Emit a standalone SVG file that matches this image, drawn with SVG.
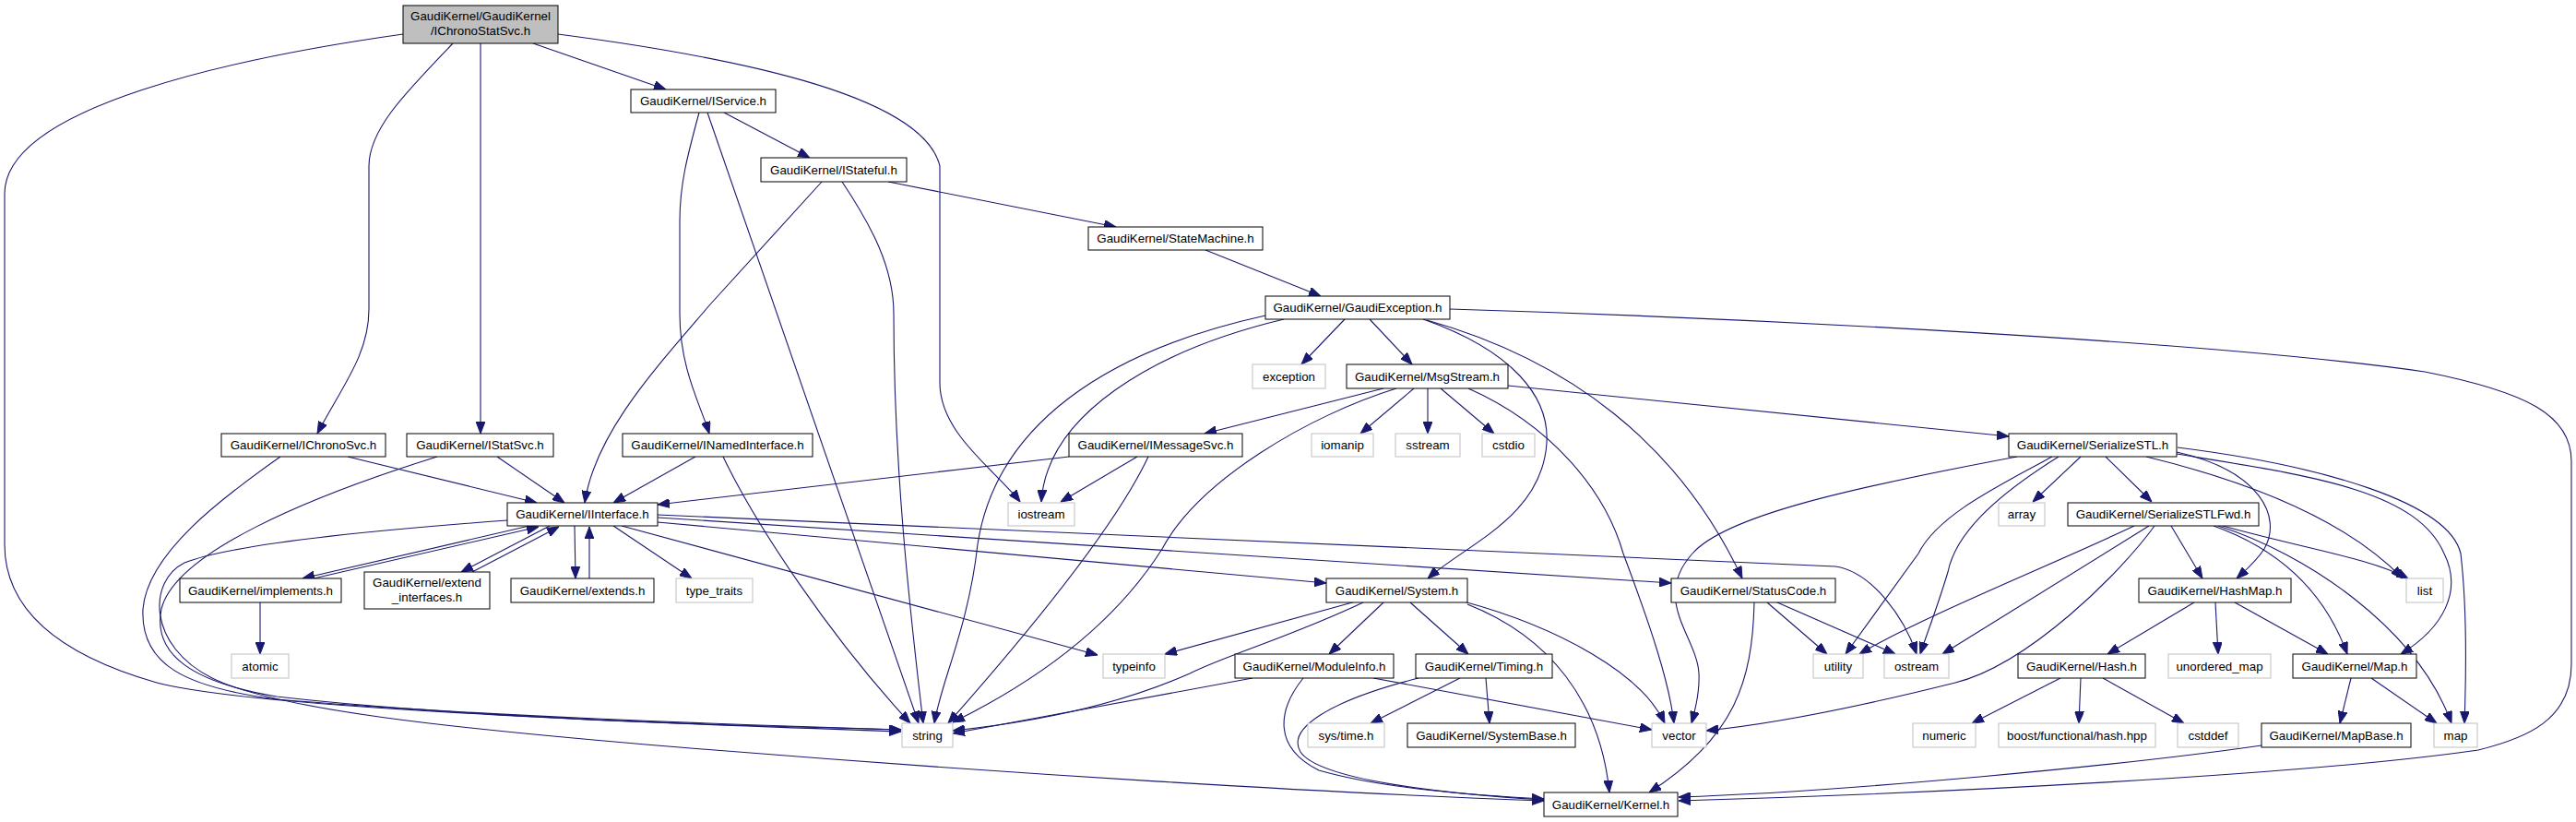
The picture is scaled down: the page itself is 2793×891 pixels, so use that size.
<svg xmlns="http://www.w3.org/2000/svg" width="2793" height="891" viewBox="0 0 2793 891">
<style>
.n{fill:#fff;stroke:#000;stroke-width:1}
.g{fill:#fff;stroke:#bfbfbf;stroke-width:1}
.r{fill:#bfbfbf;stroke:#000;stroke-width:1}
text{font-family:"Liberation Sans",Arial,Helvetica,sans-serif;font-size:13.33px;text-anchor:middle;fill:#000}
.e path{fill:none;stroke:#191970;stroke-width:1.1;marker-end:url(#a)}
</style>
<defs>
<marker id="a" markerUnits="userSpaceOnUse" markerWidth="13" markerHeight="10" refX="13" refY="5" orient="auto"><path d="M0,0 L13,5 L0,10 z" fill="#191970" stroke="#191970" stroke-width="1"/></marker>
</defs>
<rect width="2793" height="891" fill="#fff"/>
<g id="edges" class="e">
<path d="M437,37 C260,62 5,115 5,210 L5,590 C5,680 100,720 170,740 C280,770 800,787 977,793"/>
<path d="M491,47 C440,100 400,140 400,180 L400,335 C400,385 370,420 344,470"/>
<path d="M521,47 L521,470"/>
<path d="M578,47 L722,97"/>
<path d="M605,37 C780,60 1000,100 1019,180 L1019,415 C1019,470 1080,510 1106,544"/>
<path d="M785,122 L878,171"/>
<path d="M758,122 C745,170 737,200 737,240 L737,340 C737,400 760,440 769,470"/>
<path d="M767,122 L996,784"/>
<path d="M963,197 L1210,246"/>
<path d="M891,197 L770,330 C710,400 645,470 634,545"/>
<path d="M913,197 C945,245 969,290 969,340 C969,500 985,650 1001,784"/>
<path d="M1307,271 L1432,321"/>
<path d="M1458,346 L1411,395"/>
<path d="M1485,346 L1531,395"/>
<path d="M1392,346 C1250,380 1135,450 1129,544"/>
<path d="M1372,342 C1200,380 1080,460 1060,590 C1050,680 1020,740 1013,784"/>
<path d="M1543,346 C1640,380 1680,430 1677,480 C1672,560 1590,590 1548,627"/>
<path d="M1547,347 C1700,390 1820,480 1889,627"/>
<path d="M1572,335 C1900,345 2400,370 2629,403 C2740,425 2788,450 2788,500 L2788,720 C2788,780 2740,800 2687,813 C2500,840 2100,860 1820,868"/>
<path d="M1500,421 L1306,470"/>
<path d="M1533,421 L1475,470"/>
<path d="M1548,421 L1548,470"/>
<path d="M1562,421 L1620,470"/>
<path d="M1635,418 L2178,473"/>
<path d="M1514,421 C1420,450 1300,520 1260,595 C1200,690 1100,750 1033,783"/>
<path d="M1592,421 C1680,460 1740,530 1760,600 C1790,680 1810,740 1815,784"/>
<path d="M1159,495 L713,547"/>
<path d="M1233,495 L1150,544"/>
<path d="M1245,495 C1210,570 1120,680 1028,784"/>
<path d="M377,495 L582,545"/>
<path d="M304,495 C240,540 160,600 155,660 C152,720 200,745 300,758 C500,775 800,786 977,791"/>
<path d="M539,495 L612,545"/>
<path d="M474,495 C330,540 190,600 175,660 C165,710 210,740 300,755 C500,778 800,787 977,791"/>
<path d="M754,495 L665,545"/>
<path d="M784,495 C820,570 900,690 987,784"/>
<path d="M574,570 L328,627"/>
<path d="M340,627 L584,571"/>
<path d="M596,570 L500,620"/>
<path d="M512,620 L606,571"/>
<path d="M623,570 L624,627"/>
<path d="M639,627 L639,571"/>
<path d="M665,570 L750,627"/>
<path d="M674,570 L1190,710"/>
<path d="M713,558 L1990,614 C2030,620 2065,670 2078,709"/>
<path d="M713,561 L1812,632"/>
<path d="M713,566 L1438,632"/>
<path d="M550,564 C400,575 250,590 200,610 C160,630 160,700 230,735 C300,770 500,790 700,807 C1100,840 1450,860 1674,868"/>
<path d="M1478,653 C1400,690 1330,710 1290,730 C1200,770 1100,785 1033,792"/>
<path d="M1470,652 L1263,709"/>
<path d="M1500,653 L1441,709"/>
<path d="M1529,653 L1592,709"/>
<path d="M1587,652 C1690,680 1780,730 1805,784"/>
<path d="M1591,655 C1680,690 1735,760 1745,859"/>
<path d="M1358,735 L1033,795"/>
<path d="M1489,735 L1791,791"/>
<path d="M1413,735 C1385,770 1380,810 1430,835 C1500,855 1600,862 1674,866"/>
<path d="M1538,735 C1440,760 1395,790 1410,815 C1430,845 1560,860 1674,867"/>
<path d="M1583,735 L1486,784"/>
<path d="M1611,735 L1615,784"/>
<path d="M1916,653 L1981,709"/>
<path d="M1927,653 L2055,709"/>
<path d="M1902,653 C1900,740 1880,800 1788,859"/>
<path d="M2256,495 L2204,544"/>
<path d="M2283,495 L2333,544"/>
<path d="M2187,495 C2000,530 1870,560 1835,600 C1790,650 1840,690 1842,730 C1843,750 1838,770 1834,784"/>
<path d="M2225,495 C2160,530 2100,560 2080,600 L2001,709"/>
<path d="M2232,495 C2160,540 2120,580 2112,620 C2100,660 2088,690 2082,709"/>
<path d="M2360,490 C2450,510 2475,560 2455,595 C2445,610 2435,618 2425,627"/>
<path d="M2327,495 C2430,520 2540,560 2605,627"/>
<path d="M2360,492 C2500,515 2620,530 2650,600 C2670,640 2650,680 2603,709"/>
<path d="M2361,485 C2520,505 2655,545 2668,600 C2675,660 2674,730 2672,784"/>
<path d="M2314,570 C2230,610 2080,670 2016,709"/>
<path d="M2330,570 L2106,709"/>
<path d="M2336,570 C2300,620 2200,720 2120,740 C2020,765 1920,785 1850,792"/>
<path d="M2354,570 L2388,627"/>
<path d="M2410,570 C2500,595 2570,605 2611,627"/>
<path d="M2400,570 C2470,595 2520,640 2545,709"/>
<path d="M2405,570 C2500,600 2620,680 2658,784"/>
<path d="M2379,653 L2285,709"/>
<path d="M2402,653 L2405,709"/>
<path d="M2423,653 L2524,709"/>
<path d="M2234,735 L2138,784"/>
<path d="M2256,735 L2254,784"/>
<path d="M2280,735 L2368,784"/>
<path d="M2549,735 L2537,784"/>
<path d="M2571,735 L2642,784"/>
<path d="M2452,808 C2300,830 2000,858 1820,864"/>
<path d="M282,653 L282,709"/>
</g>
<g id="n0"><rect class="r" x="437" y="6" width="168" height="41"/><text x="521" y="22">GaudiKernel/GaudiKernel</text><text x="521" y="38">/IChronoStatSvc.h</text></g>
<g id="n1"><rect class="n" x="684" y="97" width="157" height="25"/><text x="762.5" y="114">GaudiKernel/IService.h</text></g>
<g id="n2"><rect class="n" x="825" y="171" width="158" height="26"/><text x="904" y="189">GaudiKernel/IStateful.h</text></g>
<g id="n3"><rect class="n" x="1180" y="246" width="189" height="25"/><text x="1274.5" y="263">GaudiKernel/StateMachine.h</text></g>
<g id="n4"><rect class="n" x="1372" y="321" width="200" height="25"/><text x="1472" y="338">GaudiKernel/GaudiException.h</text></g>
<g id="n5"><rect class="g" x="1358" y="395" width="79" height="26"/><text x="1397.5" y="412.5">exception</text></g>
<g id="n6"><rect class="n" x="1460" y="395" width="175" height="26"/><text x="1547.5" y="412.5">GaudiKernel/MsgStream.h</text></g>
<g id="n7"><rect class="n" x="240" y="470" width="178" height="25"/><text x="329" y="487">GaudiKernel/IChronoSvc.h</text></g>
<g id="n8"><rect class="n" x="441" y="470" width="159" height="25"/><text x="520.5" y="487">GaudiKernel/IStatSvc.h</text></g>
<g id="n9"><rect class="n" x="675" y="470" width="206" height="25"/><text x="778" y="487">GaudiKernel/INamedInterface.h</text></g>
<g id="n10"><rect class="n" x="1159" y="470" width="188" height="25"/><text x="1253" y="487">GaudiKernel/IMessageSvc.h</text></g>
<g id="n11"><rect class="g" x="1422" y="470" width="67" height="25"/><text x="1455.5" y="487">iomanip</text></g>
<g id="n12"><rect class="g" x="1513" y="470" width="70" height="25"/><text x="1548" y="487">sstream</text></g>
<g id="n13"><rect class="g" x="1607" y="470" width="57" height="25"/><text x="1635.5" y="487">cstdio</text></g>
<g id="n14"><rect class="n" x="2178" y="470" width="182" height="25"/><text x="2269" y="487">GaudiKernel/SerializeSTL.h</text></g>
<g id="n15"><rect class="n" x="550" y="545" width="163" height="25"/><text x="631.5" y="562">GaudiKernel/IInterface.h</text></g>
<g id="n16"><rect class="g" x="1093" y="545" width="72" height="25"/><text x="1129" y="562">iostream</text></g>
<g id="n17"><rect class="g" x="2167" y="545" width="50" height="25"/><text x="2192" y="562">array</text></g>
<g id="n18"><rect class="n" x="2242" y="545" width="207" height="25"/><text x="2345.5" y="562">GaudiKernel/SerializeSTLFwd.h</text></g>
<g id="n19"><rect class="n" x="195" y="627" width="175" height="26"/><text x="282.5" y="644.5">GaudiKernel/implements.h</text></g>
<g id="n20"><rect class="n" x="395" y="620" width="136" height="40"/><text x="463" y="636">GaudiKernel/extend</text><text x="463" y="652">_interfaces.h</text></g>
<g id="n21"><rect class="n" x="554" y="627" width="155" height="26"/><text x="631.5" y="644.5">GaudiKernel/extends.h</text></g>
<g id="n22"><rect class="g" x="733" y="627" width="83" height="26"/><text x="774.5" y="644.5">type_traits</text></g>
<g id="n23"><rect class="n" x="1438" y="627" width="153" height="26"/><text x="1514.5" y="644.5">GaudiKernel/System.h</text></g>
<g id="n24"><rect class="n" x="1812" y="627" width="178" height="26"/><text x="1901" y="644.5">GaudiKernel/StatusCode.h</text></g>
<g id="n25"><rect class="n" x="2319" y="627" width="165" height="26"/><text x="2401.5" y="644.5">GaudiKernel/HashMap.h</text></g>
<g id="n26"><rect class="g" x="2609" y="627" width="40" height="26"/><text x="2629" y="644.5">list</text></g>
<g id="n27"><rect class="g" x="251" y="709" width="62" height="26"/><text x="282" y="726.5">atomic</text></g>
<g id="n28"><rect class="g" x="1196" y="709" width="67" height="26"/><text x="1229.5" y="726.5">typeinfo</text></g>
<g id="n29"><rect class="n" x="1339" y="709" width="172" height="26"/><text x="1425" y="726.5">GaudiKernel/ModuleInfo.h</text></g>
<g id="n30"><rect class="n" x="1535" y="709" width="148" height="26"/><text x="1609" y="726.5">GaudiKernel/Timing.h</text></g>
<g id="n31"><rect class="g" x="1966" y="709" width="54" height="26"/><text x="1993" y="726.5">utility</text></g>
<g id="n32"><rect class="g" x="2043" y="709" width="70" height="26"/><text x="2078" y="726.5">ostream</text></g>
<g id="n33"><rect class="n" x="2188" y="709" width="138" height="26"/><text x="2257" y="726.5">GaudiKernel/Hash.h</text></g>
<g id="n34"><rect class="g" x="2351" y="709" width="111" height="26"/><text x="2406.5" y="726.5">unordered_map</text></g>
<g id="n35"><rect class="n" x="2486" y="709" width="134" height="26"/><text x="2553" y="726.5">GaudiKernel/Map.h</text></g>
<g id="n36"><rect class="g" x="978" y="784" width="55" height="26"/><text x="1005.5" y="801.5">string</text></g>
<g id="n37"><rect class="g" x="1418" y="784" width="83" height="26"/><text x="1459.5" y="801.5">sys/time.h</text></g>
<g id="n38"><rect class="n" x="1526" y="784" width="182" height="26"/><text x="1617" y="801.5">GaudiKernel/SystemBase.h</text></g>
<g id="n39"><rect class="g" x="1791" y="784" width="59" height="26"/><text x="1820.5" y="801.5">vector</text></g>
<g id="n40"><rect class="g" x="2074" y="784" width="68" height="26"/><text x="2108" y="801.5">numeric</text></g>
<g id="n41"><rect class="g" x="2167" y="784" width="170" height="26"/><text x="2252" y="801.5">boost/functional/hash.hpp</text></g>
<g id="n42"><rect class="g" x="2361" y="784" width="66" height="26"/><text x="2394" y="801.5">cstddef</text></g>
<g id="n43"><rect class="n" x="2452" y="784" width="162" height="26"/><text x="2533" y="801.5">GaudiKernel/MapBase.h</text></g>
<g id="n44"><rect class="g" x="2639" y="784" width="47" height="26"/><text x="2662.5" y="801.5">map</text></g>
<g id="n45"><rect class="n" x="1674" y="859" width="145" height="26"/><text x="1746.5" y="876.5">GaudiKernel/Kernel.h</text></g>
</svg>
